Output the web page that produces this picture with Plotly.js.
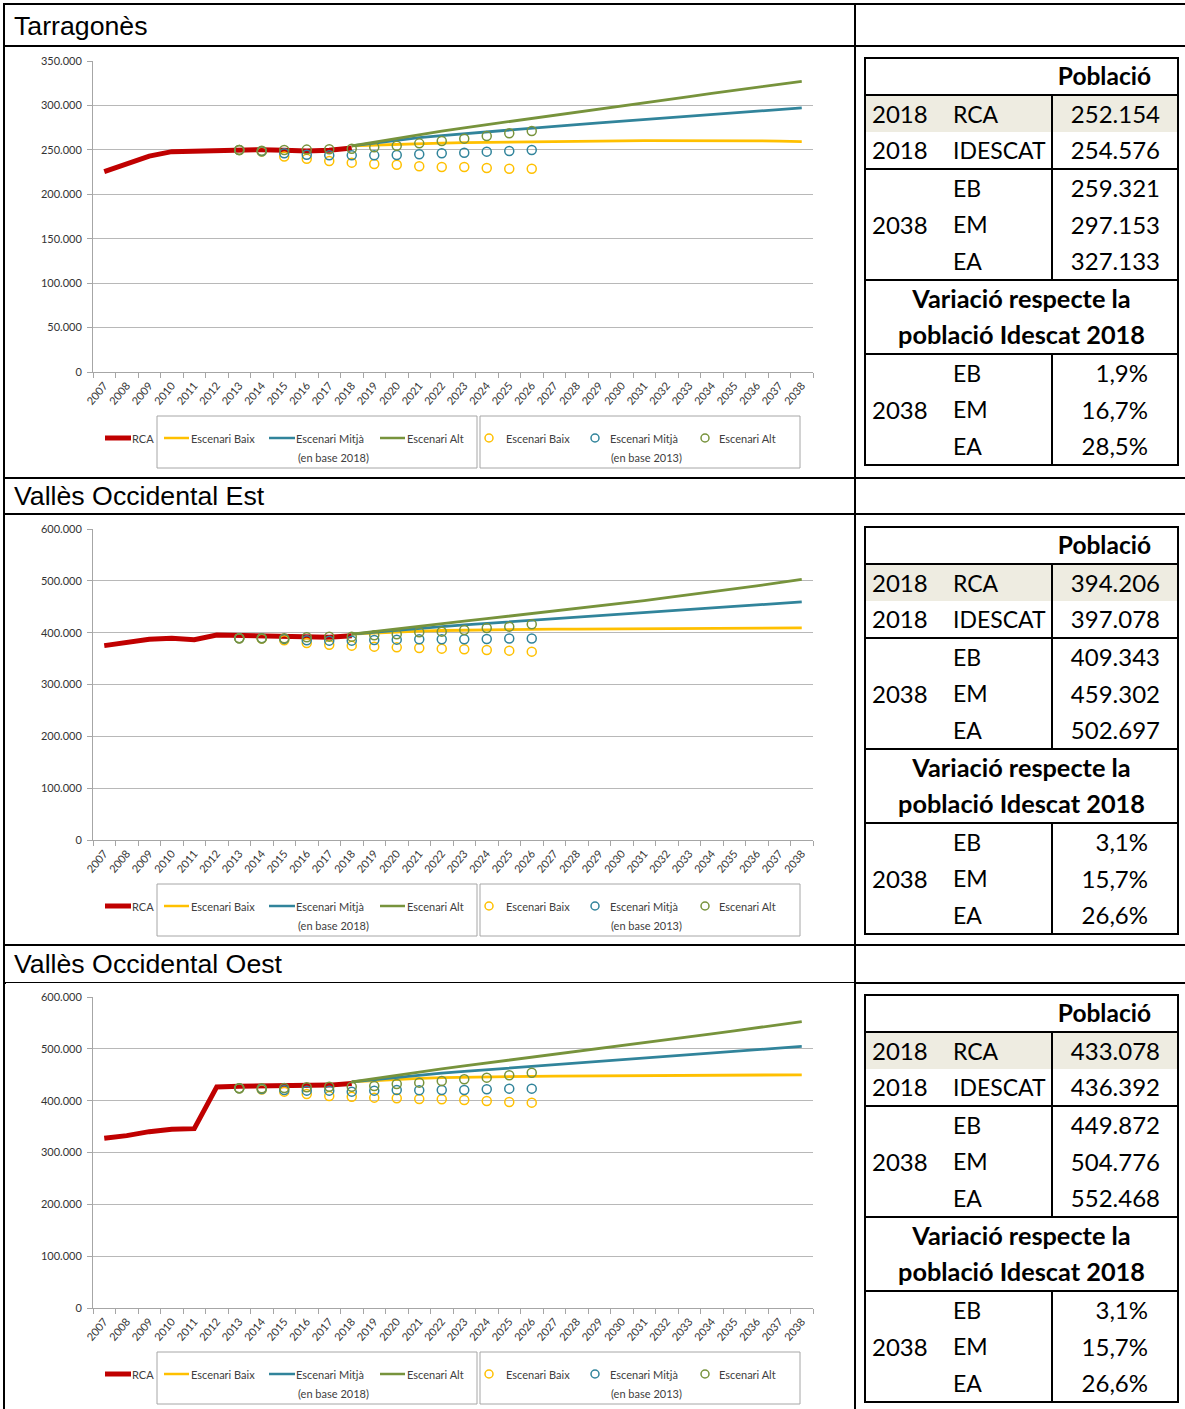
<!DOCTYPE html>
<html><head><meta charset="utf-8">
<script src="https://cdn.plot.ly/plotly-3.0.1.min.js"></script>
<style>
body{margin:0;background:#fff;width:1185px;height:1409px;position:relative;overflow:hidden;font-family:Lato,sans-serif;}
.hl{position:absolute;left:3px;width:1182px;height:2px;background:#000;}
.vl{position:absolute;width:2px;background:#000;}
.ttl{position:absolute;left:14px;font-family:'Liberation Sans',Arial,sans-serif;font-size:26.7px;line-height:26px;color:#000;white-space:nowrap;}
.chart{position:absolute;left:6px;width:848px;height:428px;}
table.pt{position:absolute;left:864px;width:313px;border-collapse:collapse;font-family:Lato,sans-serif;font-size:24px;color:#000;table-layout:fixed;border:2px solid #000;}
table.pt tr{height:37px;}
table.pt td{padding:0;line-height:1;vertical-align:middle;white-space:nowrap;}
table.pt tr.b td, table.pt td.bb{border-bottom:2px solid #000;}
table.pt tr.sh td{background:#EEECE1;}
td.y{padding-left:6px !important;text-align:left;}
td.l{padding-left:8px !important;text-align:left;font-size:23px;}
td.v{text-align:right;padding-right:17px !important;border-left:2px solid #000;}
td.p{text-align:right;padding-right:29px !important;border-left:2px solid #000;}
td.hd{text-align:right;padding-right:26px !important;font-weight:bold;font-size:24.5px;}
td.c{text-align:center;font-weight:bold;font-size:25.3px;}
</style>
</head>
<body>
<div class="hl" style="top:3px"></div>
<div class="vl" style="left:3px;top:3px;height:1406px"></div>
<div class="vl" style="left:854px;top:3px;height:1406px"></div>
<div class="hl" style="top:45px"></div>
<div class="hl" style="top:477px"></div>
<div class="hl" style="top:513px"></div>
<div class="hl" style="top:944px"></div>
<div class="hl" style="top:982px"></div>

<div class="ttl" style="top:13px">Tarragonès</div>
<div class="ttl" style="top:483px">Vallès Occidental Est</div>
<div class="ttl" style="top:951px">Vallès Occidental Oest</div>

<div id="c1" class="chart" style="top:47px"></div>
<div id="c2" class="chart" style="top:515px"></div>
<div id="c3" class="chart" style="top:983px"></div>

<script>
// ---------------- DATA (population in thousands) ----------------
const years = ['2007','2008','2009','2010','2011','2012','2013','2014','2015','2016','2017','2018','2019','2020','2021','2022','2023','2024','2025','2026','2027','2028','2029','2030','2031','2032','2033','2034','2035','2036','2037','2038'];
const yearsRCA = ['2007','2008','2009','2010','2011','2012','2013','2014','2015','2016','2017','2018'];
const yearsProj = ['2018','2019','2020','2021','2022','2023','2024','2025','2026','2027','2028','2029','2030','2031','2032','2033','2034','2035','2036','2037','2038'];
const years2013 = ['2013','2014','2015','2016','2017','2018','2019','2020','2021','2022','2023','2024','2025','2026'];

// Tarragonès
const tarRCA = [225.5, 234.8, 243.0, 248.0, 248.7, 249.5, 249.8, 250.2, 249.5, 248.7, 249.5, 252.2];
const tarEB = [254.6,255.5,256.3,257.0,257.6,258.1,258.5,258.9,259.2,259.5,259.8,260.0,260.2,260.3,260.4,260.5,260.5,260.5,260.2,259.8,259.3];
const tarEM = [254.6,257.9,261.0,263.8,266.1,268.3,270.5,272.6,274.6,276.6,278.5,280.4,282.3,284.2,286.1,288.0,289.9,291.7,293.5,295.3,297.2];
const tarEA = [254.6,258.9,263.3,267.5,271.2,274.8,278.4,281.9,285.4,289.0,292.5,296.0,299.5,303.0,306.5,310.0,313.5,316.9,320.3,323.7,327.1];
const tarEB13 = [249.8,248.0,242.4,240.0,237.5,235.6,234.1,233.3,231.6,230.7,230.7,229.6,228.8,228.8];
const tarEM13 = [249.8,248.5,246.1,244.4,243.8,243.8,243.8,244.2,245.0,246.1,246.8,248.0,248.7,249.8];
const tarEA13 = [249.8,249.1,249.8,250.3,250.6,251.3,252.8,254.7,257.3,260.0,262.6,265.6,268.6,271.2];
const tarVals = ['252.154','254.576','259.321','297.153','327.133'];
const tarPct = ['1,9%','16,7%','28,5%'];

// Vallès Occidental Est
const voeRCA = [375.0, 380.8, 387.2, 389.1, 386.5, 395.5, 394.2, 393.6, 391.7, 390.4, 391.0, 394.2];
const voeEB = [397.1,399.5,401.5,403.1,404.2,405.0,405.6,406.0,406.4,406.7,407.0,407.3,407.6,407.9,408.1,408.3,408.6,408.8,409.0,409.2,409.3];
const voeEM = [397.1,401.0,404.8,408.4,411.7,414.9,418.0,421.1,424.2,427.3,430.3,433.3,436.3,439.3,442.2,445.1,448.0,450.8,453.6,456.5,459.3];
const voeEA = [397.1,402.4,407.7,412.9,417.6,422.3,427.0,431.8,436.7,441.6,446.6,451.6,456.6,462.0,467.4,472.8,478.4,484.3,490.3,496.4,502.7];
const voeEB13 = [389.1,388.5,385.5,380.0,376.5,375.0,373.0,371.7,370.4,369.2,367.9,366.6,365.3,363.4];
const voeEM13 = [389.1,389.1,388.0,385.5,384.6,384.6,386.0,386.5,387.2,387.2,387.2,387.8,388.8,388.8];
const voeEA13 = [389.1,389.1,389.1,391.0,392.3,392.3,395.0,396.8,400.7,402.0,405.2,409.0,411.6,416.1];
const voeVals = ['394.206','397.078','409.343','459.302','502.697'];
const voePct = ['3,1%','15,7%','26,6%'];

// Vallès Occidental Oest
const vooRCA = [327.3, 332.5, 340.2, 344.7, 346.0, 426.5, 428.0, 428.5, 428.0, 428.5, 430.0, 433.1];
const vooEB = [436.4,438.8,441.1,443.1,444.4,445.4,446.1,446.6,447.0,447.3,447.6,447.9,448.2,448.6,448.9,449.1,449.3,449.5,449.6,449.8,449.9];
const vooEM = [436.4,440.9,445.3,449.5,453.0,456.4,459.7,463.0,466.2,469.4,472.6,475.7,478.7,481.7,485.0,488.3,491.6,494.9,498.2,501.5,504.8];
const vooEA = [436.4,443.0,449.5,456.0,461.5,467.0,472.5,478.0,483.5,489.0,494.5,500.0,505.6,511.2,517.0,522.9,528.8,534.7,540.6,546.5,552.5];
const vooEB13 = [423.8,421.5,417.4,412.9,409.0,407.7,405.8,404.5,403.2,402.6,401.3,399.4,397.5,396.2];
const vooEM13 = [423.8,422.5,420.6,419.3,419.3,417.4,419.3,420.6,420.0,420.6,420.6,421.9,423.2,423.2];
const vooEA13 = [423.8,423.8,424.5,425.8,427.0,427.0,428.3,432.2,434.8,438.0,441.2,444.4,448.9,454.0];
const vooVals = ['433.078','436.392','449.872','504.776','552.468'];
const vooPct = ['3,1%','15,7%','26,6%'];

const legendLabels = ['RCA','Escenari Baix','Escenari Mitjà','Escenari Alt','(en base 2018)','(en base 2013)'];

// ---------------- STYLE ----------------
const RED = '#C00000', YEL = '#FFC000', BLU = '#31849B', GRN = '#77933C';
const K = v => v * 1000;

function fx(px){ return (px - 93) / 720; }     // page x -> paper x
function fy(rel){ return (325 - rel) / 311; }  // px below chart top -> paper y

function legendDeco(){
  const shapes = [], ann = [];
  const ly = 391, ly2 = 411;
  const txt = (x, y, t, anchor) => ann.push({xref:'paper', yref:'paper', x:fx(x), y:fy(y), text:t, showarrow:false,
    xanchor:anchor||'left', yanchor:'middle', font:{family:'Lato', size:11, color:'#404040'}});
  const ln = (x0, x1, c, w) => shapes.push({type:'line', xref:'paper', yref:'paper', x0:fx(x0), x1:fx(x1), y0:fy(ly), y1:fy(ly), line:{color:c, width:w}});
  const circ = (cx, c) => shapes.push({type:'circle', xref:'paper', yref:'paper', x0:fx(cx-4), x1:fx(cx+4), y0:fy(ly+4), y1:fy(ly-4), line:{color:c, width:1.5}});
  shapes.push({type:'rect', xref:'paper', yref:'paper', x0:fx(157), x1:fx(477), y0:fy(421), y1:fy(369), line:{color:'#a6a6a6', width:1}});
  shapes.push({type:'rect', xref:'paper', yref:'paper', x0:fx(480), x1:fx(800), y0:fy(421), y1:fy(369), line:{color:'#a6a6a6', width:1}});
  ln(105, 131, RED, 5); txt(130, ly, legendLabels[0]);
  ln(164, 189, YEL, 2.5); txt(189, ly, legendLabels[1]);
  ln(269, 295, BLU, 2.5); txt(294, ly, legendLabels[2]);
  ln(380, 405, GRN, 2.5); txt(405, ly, legendLabels[3]);
  txt(333, ly2, legendLabels[4], 'center');
  circ(489, YEL); txt(504, ly, legendLabels[1]);
  circ(595, BLU); txt(608, ly, legendLabels[2]);
  circ(705, GRN); txt(717, ly, legendLabels[3]);
  txt(646, ly2, legendLabels[5], 'center');
  return {shapes, ann};
}

function drawChart(id, ymax, dtick, rca, eb, em, ea, eb13, em13, ea13){
  const mk = (y, c) => ({x:years2013, y:y.map(K), type:'scatter', mode:'markers',
      marker:{symbol:'circle-open', size:9, color:c, line:{width:1.5, color:c}}, hoverinfo:'skip'});
  const line = (x, y, c, w) => ({x:x, y:y.map(K), type:'scatter', mode:'lines', line:{color:c, width:w}, hoverinfo:'skip'});
  const traces = [
    line(yearsRCA, rca, RED, 5),
    line(yearsProj, eb, YEL, 2.8),
    line(yearsProj, em, BLU, 2.8),
    line(yearsProj, ea, GRN, 2.8),
    mk(eb13, YEL), mk(em13, BLU), mk(ea13, GRN)
  ];
  const d = legendDeco();
  const layout = {
    width:848, height:428, margin:{l:87, r:41, t:14, b:103},
    paper_bgcolor:'#fff', plot_bgcolor:'#fff', showlegend:false, separators:',.',
    xaxis:{type:'category', categoryorder:'array', categoryarray:years, range:[-0.5, 31.5],
      tickson:'boundaries', ticks:'outside', ticklen:5, tickcolor:'#a6a6a6', showline:true, linecolor:'#a6a6a6',
      showgrid:false, zeroline:false, tickangle:-50, ticklabelstandoff:2,
      tickfont:{family:'Lato', size:11, color:'#333'}},
    yaxis:{range:[0, K(ymax)], dtick:K(dtick), tick0:0, tickformat:',d', showline:true, linecolor:'#a6a6a6',
      ticks:'outside', ticklen:5, tickcolor:'#a6a6a6', gridcolor:'#b8b8b8', gridwidth:1, zeroline:false,
      ticklabelstandoff:3, tickfont:{family:'Lato', size:11, color:'#333'}},
    shapes:d.shapes, annotations:d.ann
  };
  Plotly.newPlot(id, traces, layout, {staticPlot:true, displayModeBar:false});
}

drawChart('c1', 350, 50, tarRCA, tarEB, tarEM, tarEA, tarEB13, tarEM13, tarEA13);
drawChart('c2', 600, 100, voeRCA, voeEB, voeEM, voeEA, voeEB13, voeEM13, voeEA13);
drawChart('c3', 600, 100, vooRCA, vooEB, vooEM, vooEA, vooEB13, vooEM13, vooEA13);

function makeTable(top, vals, pcts){
  const t = document.createElement('table');
  t.className = 'pt'; t.style.top = top + 'px';
  t.innerHTML =
  '<colgroup><col style="width:80px"><col style="width:107px"><col style="width:126px"></colgroup>' +
  '<tr class="b"><td colspan="2"></td><td class="hd">Població</td></tr>' +
  '<tr class="sh"><td class="y">2018</td><td class="l">RCA</td><td class="v">' + vals[0] + '</td></tr>' +
  '<tr class="b"><td class="y">2018</td><td class="l">IDESCAT</td><td class="v">' + vals[1] + '</td></tr>' +
  '<tr><td class="y bb" rowspan="3">2038</td><td class="l">EB</td><td class="v">' + vals[2] + '</td></tr>' +
  '<tr><td class="l">EM</td><td class="v">' + vals[3] + '</td></tr>' +
  '<tr class="b"><td class="l">EA</td><td class="v">' + vals[4] + '</td></tr>' +
  '<tr><td colspan="3" class="c">Variació respecte la</td></tr>' +
  '<tr class="b"><td colspan="3" class="c">població Idescat 2018</td></tr>' +
  '<tr><td class="y" rowspan="3">2038</td><td class="l">EB</td><td class="p">' + pcts[0] + '</td></tr>' +
  '<tr><td class="l">EM</td><td class="p">' + pcts[1] + '</td></tr>' +
  '<tr><td class="l">EA</td><td class="p">' + pcts[2] + '</td></tr>';
  document.body.appendChild(t);
}
makeTable(57, tarVals, tarPct);
makeTable(526, voeVals, voePct);
makeTable(994, vooVals, vooPct);
</script>
</body></html>
